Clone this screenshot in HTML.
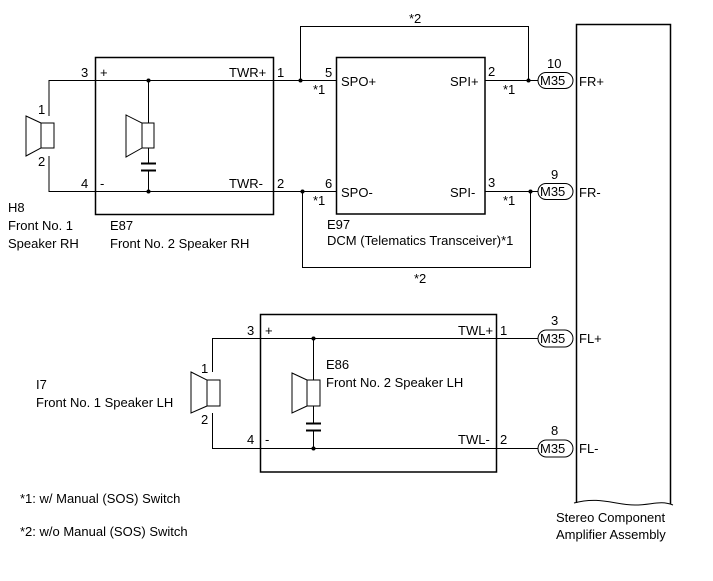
<!DOCTYPE html>
<html><head><meta charset="utf-8"><style>
html,body{margin:0;padding:0;background:#fff;}
svg{display:block;}
text{font-family:"Liberation Sans",Arial,sans-serif;font-size:13px;fill:#000;}
</style></head><body>
<svg width="713" height="581" viewBox="0 0 713 581" xmlns="http://www.w3.org/2000/svg">
<g fill="none" stroke="#000" stroke-width="1">
<!-- E87 box -->
<rect x="95.5" y="57.5" width="178" height="157" stroke-width="1.5"/>
<!-- H8 wires -->
<polyline points="49,116 49,80.5 300,80.5"/>
<polyline points="49,156 49,191.5 336,191.5"/>
<line x1="273" y1="80.5" x2="336" y2="80.5"/>
<!-- H8 speaker -->
<polygon points="26,116 41,123 41,148 26,156"/>
<rect x="41" y="123" width="13" height="25"/>
<!-- inner E87 speaker -->
<line x1="148.5" y1="80" x2="148.5" y2="123"/>
<polygon points="126,115 142,123 142,148 126,157"/>
<rect x="142" y="123" width="12" height="25"/>
<line x1="148.5" y1="148" x2="148.5" y2="163"/>
<line x1="141" y1="163.5" x2="156" y2="163.5" stroke-width="2"/>
<line x1="141" y1="170.5" x2="156" y2="170.5" stroke-width="2"/>
<line x1="148.5" y1="171" x2="148.5" y2="191"/>
<!-- loops *2 -->
<polyline points="300.5,80 300.5,26.5 528.5,26.5 528.5,80"/>
<polyline points="302.5,191 302.5,267.5 530.5,267.5 530.5,191"/>
<!-- E97 box -->
<rect x="336.5" y="57.5" width="148.5" height="156.5" stroke-width="1.5"/>
<line x1="485" y1="80.5" x2="538" y2="80.5"/>
<line x1="485" y1="191.5" x2="538" y2="191.5"/>
<!-- M35 pills top -->
<rect x="538" y="72.5" width="35" height="16" rx="8"/>
<rect x="538" y="183.5" width="35" height="16" rx="8"/>
<!-- amp box -->
<polyline points="576.5,503 576.5,24.5 670.5,24.5 670.5,504" stroke-width="1.5"/>
<path d="M574,503 C600,496 615,505 635,505 C652,505 660,500 673,505"/>
<!-- E86 box -->
<rect x="260.5" y="314.5" width="236" height="157.5" stroke-width="1.5"/>
<polyline points="212.5,372 212.5,338.5 538,338.5"/>
<polyline points="212.5,413 212.5,448.5 538,448.5"/>
<rect x="538" y="330" width="35" height="17" rx="8.5"/>
<rect x="538" y="440" width="35" height="17" rx="8.5"/>
<!-- I7 speaker -->
<polygon points="191,372 207,380 207,406 191,413"/>
<rect x="207" y="380" width="13" height="26"/>
<!-- E86 inner speaker -->
<line x1="313.5" y1="338" x2="313.5" y2="380"/>
<polygon points="292,373 307,380 307,406 292,413"/>
<rect x="307" y="380" width="13" height="26"/>
<line x1="313.5" y1="406" x2="313.5" y2="423"/>
<line x1="306" y1="423.5" x2="321" y2="423.5" stroke-width="2"/>
<line x1="306" y1="430.5" x2="321" y2="430.5" stroke-width="2"/>
<line x1="313.5" y1="431" x2="313.5" y2="448"/>
</g>
<g fill="#000">
<circle cx="148.5" cy="80.5" r="2"/><circle cx="148.5" cy="191.5" r="2"/>
<circle cx="300.5" cy="80.5" r="2"/><circle cx="302.5" cy="191.5" r="2"/>
<circle cx="528.5" cy="80.5" r="2"/><circle cx="530.5" cy="191.5" r="2"/>
<circle cx="313.5" cy="338.5" r="2"/><circle cx="313.5" cy="448.5" r="2"/>
</g>
<!-- labels top -->
<text x="81" y="77">3</text><text x="100" y="77">+</text>
<text x="81" y="188">4</text><text x="100" y="188">-</text>
<text x="38" y="114">1</text><text x="38" y="166">2</text>
<text x="8" y="212">H8</text>
<text x="8" y="230">Front No. 1</text>
<text x="8" y="248">Speaker RH</text>
<text x="110" y="230">E87</text>
<text x="110" y="248">Front No. 2 Speaker RH</text>
<text x="229" y="77">TWR+</text><text x="277" y="77">1</text>
<text x="229" y="188">TWR-</text><text x="277" y="188">2</text>
<text x="325" y="77">5</text><text x="313" y="94">*1</text>
<text x="325" y="188">6</text><text x="313" y="205">*1</text>
<text x="341" y="86">SPO+</text>
<text x="341" y="197">SPO-</text>
<text x="450" y="86">SPI+</text>
<text x="450" y="197">SPI-</text>
<text x="488" y="76">2</text><text x="503" y="94">*1</text>
<text x="488" y="187">3</text><text x="503" y="205">*1</text>
<text x="409" y="23">*2</text>
<text x="414" y="283">*2</text>
<text x="327" y="229">E97</text>
<text x="327" y="245">DCM (Telematics Transceiver)*1</text>
<text x="547" y="68">10</text>
<text x="551" y="179">9</text>
<text x="540" y="85">M35</text>
<text x="540" y="196">M35</text>
<text x="579" y="86">FR+</text>
<text x="579" y="197">FR-</text>
<!-- lower labels -->
<text x="247" y="335">3</text><text x="265" y="335">+</text>
<text x="247" y="444">4</text><text x="265" y="444">-</text>
<text x="201" y="373">1</text><text x="201" y="424">2</text>
<text x="36" y="389">I7</text>
<text x="36" y="407">Front No. 1 Speaker LH</text>
<text x="326" y="369">E86</text>
<text x="326" y="387">Front No. 2 Speaker LH</text>
<text x="458" y="335">TWL+</text><text x="500" y="335">1</text>
<text x="458" y="444">TWL-</text><text x="500" y="444">2</text>
<text x="551" y="325">3</text>
<text x="551" y="435">8</text>
<text x="540" y="343">M35</text>
<text x="540" y="453">M35</text>
<text x="579" y="343">FL+</text>
<text x="579" y="453">FL-</text>
<text x="20" y="503">*1: w/ Manual (SOS) Switch</text>
<text x="20" y="536">*2: w/o Manual (SOS) Switch</text>
<text x="556" y="522">Stereo Component</text>
<text x="556" y="539">Amplifier Assembly</text>
</svg>
</body></html>
